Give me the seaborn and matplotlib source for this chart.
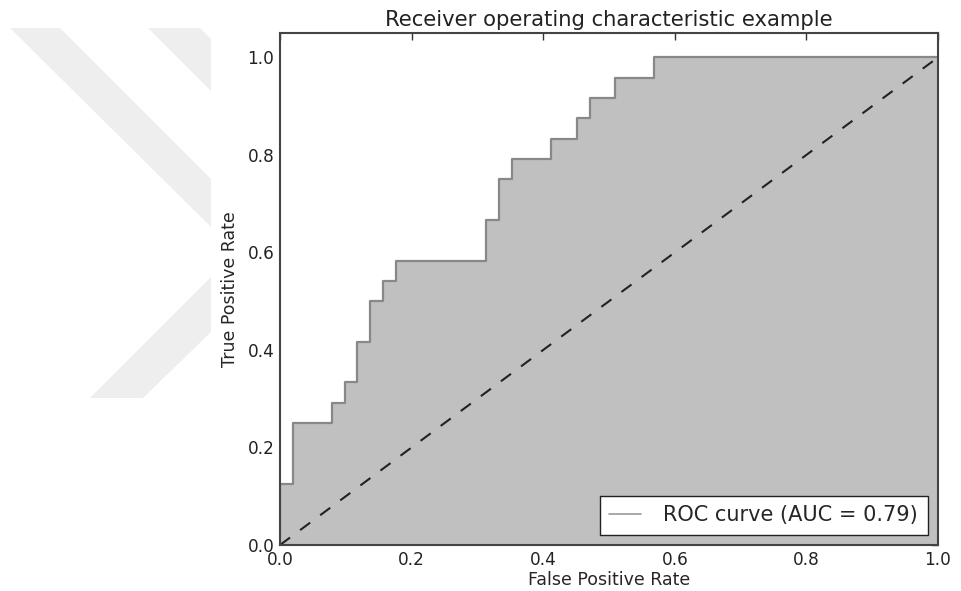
import numpy as np
import pandas as pd
import matplotlib
matplotlib.use("Agg")
import matplotlib.pyplot as plt
from matplotlib.patches import Polygon
import seaborn as sns

# ROC corner points expressed as counts: false positives out of 51 negatives,
# true positives out of 24 positives
n_neg = 51
n_pos = 24
fp_counts = [0, 0, 1, 1, 4, 4, 5, 5, 6, 6, 7, 7, 8, 8, 9, 9, 16, 16, 17, 17,
             18, 18, 21, 21, 23, 23, 24, 24, 26, 26, 29, 29, 51]
tp_counts = [0, 3, 3, 6, 6, 7, 7, 8, 8, 10, 10, 12, 12, 13, 13, 14, 14, 16, 16, 18,
             18, 19, 19, 20, 20, 21, 21, 22, 22, 23, 23, 24, 24]
chance_line = [0.0, 1.0]

fpr = np.array(fp_counts) / n_neg
tpr = np.array(tp_counts) / n_pos
roc_auc = np.trapezoid(tpr, fpr)

roc_df = pd.DataFrame({"fpr": fpr, "tpr": tpr})
chance_df = pd.DataFrame({"x": chance_line, "y": chance_line})

sns.set_theme(style="white")
plt.rcParams["font.family"] = ["DejaVu Sans"]
plt.rcParams["xtick.direction"] = "in"
plt.rcParams["ytick.direction"] = "in"

W, H = 961, 591
fig = plt.figure(figsize=(W / 100, H / 100), dpi=100)
fig.patch.set_facecolor("white")


def fig_pts(pts):
    return [(x / W, 1 - y / H) for x, y in pts]


# faint chevron emblem in the left margin
emblem = "#eeeeee"
for shape in (
    [(10, 28), (60, 28), (211, 179), (211, 227)],
    [(211, 277), (90, 398), (143, 398), (211, 332)],
    [(148, 28), (200, 28), (211, 39), (211, 91)],
):
    fig.patches.append(Polygon(fig_pts(shape), closed=True, transform=fig.transFigure,
                               facecolor=emblem, edgecolor="none", zorder=0))

ax = fig.add_axes([280 / W, 46 / H, 658 / W, 512 / H])
ax.set_facecolor("white")

ax.fill_between(roc_df["fpr"], roc_df["tpr"], color="#c0c0c0", zorder=1, linewidth=0)
sns.lineplot(data=roc_df, x="fpr", y="tpr", sort=False, estimator=None, ax=ax,
             color="#888888", linewidth=1.6, zorder=2,
             label="ROC curve (AUC = %0.2f)" % roc_auc)
sns.lineplot(data=chance_df, x="x", y="y", sort=False, estimator=None, ax=ax,
             color="#222222", linewidth=1.5, linestyle=(0, (6, 6)), zorder=3,
             legend=False)

ax.set_xlim(0.0, 1.0)
ax.set_ylim(0.0, 1.05)
ax.set_xticks([0.0, 0.2, 0.4, 0.6, 0.8, 1.0])
ax.set_yticks([0.0, 0.2, 0.4, 0.6, 0.8, 1.0])
ax.set_xlabel("False Positive Rate", fontsize=12.5, labelpad=2)
ax.set_ylabel("True Positive Rate", fontsize=12.5, labelpad=6)
ax.set_title("Receiver operating characteristic example", fontsize=15.2, pad=5,
             color="#222222")

ax.tick_params(axis="both", which="major", direction="in", length=5, width=1,
               color="#333333", labelsize=12.2, top=True, right=True,
               pad=4, labelcolor="#222222")
for sp in ax.spines.values():
    sp.set_color("#444444")
    sp.set_linewidth(1.5)
    sp.set_zorder(4)

leg = ax.legend(loc="lower right", fontsize=15, frameon=True, fancybox=False,
                framealpha=1.0, facecolor="white",
                borderaxespad=0.5, handlelength=1.5, handletextpad=1.1,
                borderpad=0.45)
leg.get_frame().set_edgecolor("#222222")
leg.get_frame().set_linewidth(1.0)
for line in leg.get_lines():
    line.set_color("#999999")
    line.set_linewidth(1.2)

fig.savefig("out.png", dpi=100)
